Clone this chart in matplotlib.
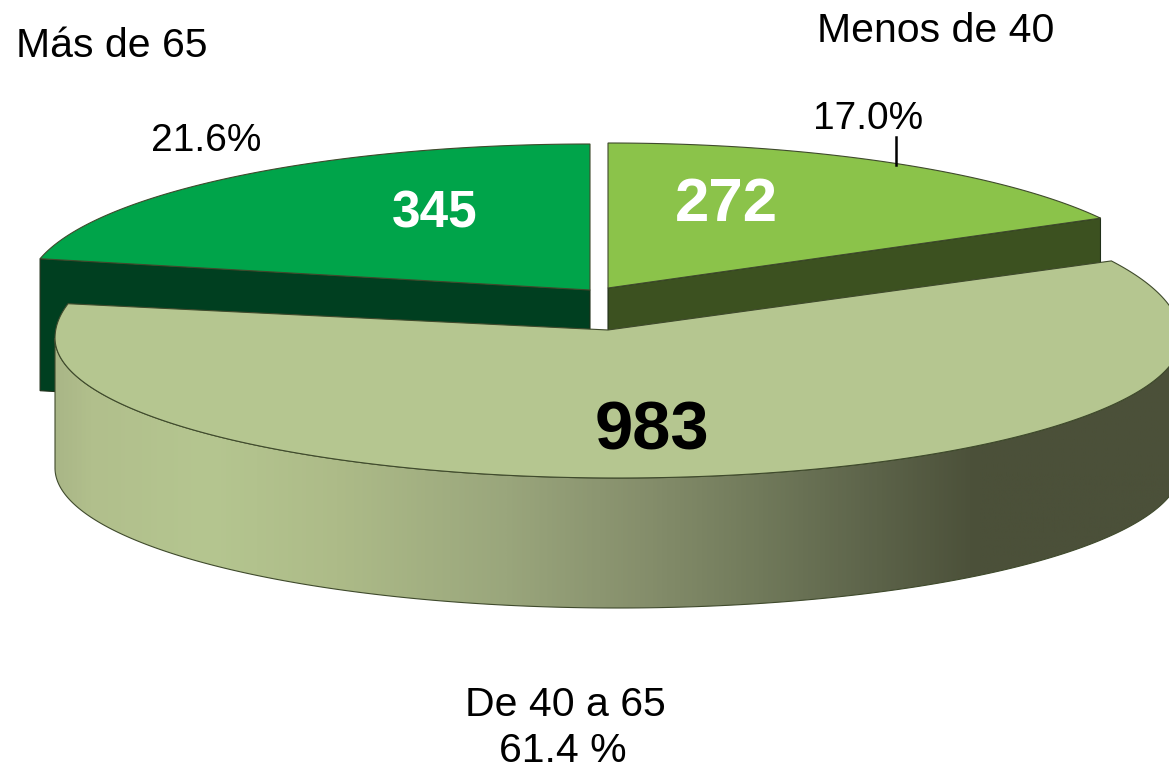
"""Exploded 3D-style pie: patients by age group."""

import numpy as np
import matplotlib

matplotlib.use("Agg")
import matplotlib.pyplot as plt
from matplotlib.colors import LinearSegmentedColormap
from matplotlib.patches import Polygon

plt.rcParams["font.family"] = ["Liberation Sans", "DejaVu Sans"]

categories = ["Menos de 40", "De 40 a 65", "Más de 65"]
values = [272, 983, 345]
pct_labels = ["17.0%", "61.4 %", "21.6%"]

W, H = 1169, 767
EDGE = "#3f4a2c"

fractions = np.array(values) / sum(values)
sweeps = fractions * 360.0
# slices run clockwise starting at twelve o'clock
a_small_end = 90 - sweeps[0]
a_big_end = a_small_end - sweeps[1]
a_left_end = 90 + sweeps[2]


def arc(cx, cy, rx, ry_top, ry_bot, a0, a1, n=300):
    t = np.radians(np.linspace(a0, a1, n))
    s = np.sin(t)
    y = cy - np.where(s > 0, s * ry_top, s * ry_bot)
    return np.column_stack([cx + rx * np.cos(t), y])


def flat_slice(ax, centre, radii, a0, a1, top, cut, depth):
    cx, cy = centre
    rx, ry = radii
    pts = arc(cx, cy, rx, ry, ry, a0, a1)
    rim = pts[np.abs(pts[:, 0] - cx).argmax()]
    # cut face first, the big slice hides most of it later
    wall = np.array([[cx, cy], rim, rim + [0, depth], [cx, cy + depth]])
    ax.add_patch(Polygon(wall, fc=cut, ec="#20301a", lw=0.8, zorder=2))
    face = np.vstack([[cx, cy], pts])
    ax.add_patch(Polygon(face, fc=top, ec=EDGE, lw=0.8, zorder=3))


fig = plt.figure(figsize=(W / 100, H / 100), dpi=100)
ax = fig.add_axes([0, 0, 1, 1])
ax.set_xlim(0, W)
ax.set_ylim(H, 0)
ax.axis("off")

flat_slice(ax, (608, 288), (562, 145), 90, a_small_end, "#8bc34a", "#3c5120", 132)
flat_slice(ax, (590, 290), (563, 146), 90, a_left_end, "#00a44a", "#003f20", 132)

# big slice: wall with the horizontal shading, then the top face
big_c = (618, 338)
big_rx, big_top, big_bot, depth = 563, 160, 140, 130
lower = arc(*big_c, big_rx, big_top, big_bot, 180, 360)
wall = np.vstack([lower, (lower + [0, depth])[::-1]])
shade = LinearSegmentedColormap.from_list(
    "wall",
    [(0.0, "#a9b687"), (0.03, "#b1bf8c"), (0.135, "#b5c690"), (0.25, "#adbb88"),
     (0.4, "#9aa67c"), (0.52, "#868f6c"), (0.63, "#70795a"), (0.72, "#5e654b"),
     (0.82, "#4b5039"), (1.0, "#4b5039")],
)
wall_patch = Polygon(wall, fc="none", ec=EDGE, lw=0.8, zorder=4)
ax.add_patch(wall_patch)
grad = ax.imshow(
    np.linspace(0, 1, 512).reshape(1, -1), cmap=shade, aspect="auto",
    extent=[big_c[0] - big_rx, big_c[0] + big_rx, 620, 330], zorder=3.9,
)
grad.set_clip_path(wall_patch)
ax.set_xlim(0, W)
ax.set_ylim(H, 0)

rim = arc(*big_c, big_rx, big_top, big_bot, a_small_end, a_big_end)
ax.add_patch(Polygon(np.vstack([[608, 330], rim]), fc="#b5c690", ec=EDGE, lw=0.8, zorder=5))

# leader line for the smallest slice
ax.plot([896, 896], [137, 165], color="black", lw=1.8, zorder=6)

ax.text(112, 57, categories[2], fontsize=29.5, ha="center", va="baseline")
ax.text(936, 42, categories[0], fontsize=29.5, ha="center", va="baseline")
ax.text(206, 151, pct_labels[2], fontsize=28, ha="center", va="baseline")
ax.text(868, 129, pct_labels[0], fontsize=28, ha="center", va="baseline")
ax.text(565, 716, categories[1], fontsize=29.5, ha="center", va="baseline")
ax.text(563, 762, pct_labels[1], fontsize=29.5, ha="center", va="baseline")
ax.text(435, 227, str(values[2]), fontsize=37, fontweight="bold", color="white",
        ha="center", va="baseline", zorder=7)
ax.text(726, 221, str(values[0]), fontsize=44.5, fontweight="bold", color="white",
        ha="center", va="baseline", zorder=7)
ax.text(652, 450, str(values[1]), fontsize=49.5, fontweight="bold", color="black",
        ha="center", va="baseline", zorder=7)

fig.savefig("out.png", dpi=100)
